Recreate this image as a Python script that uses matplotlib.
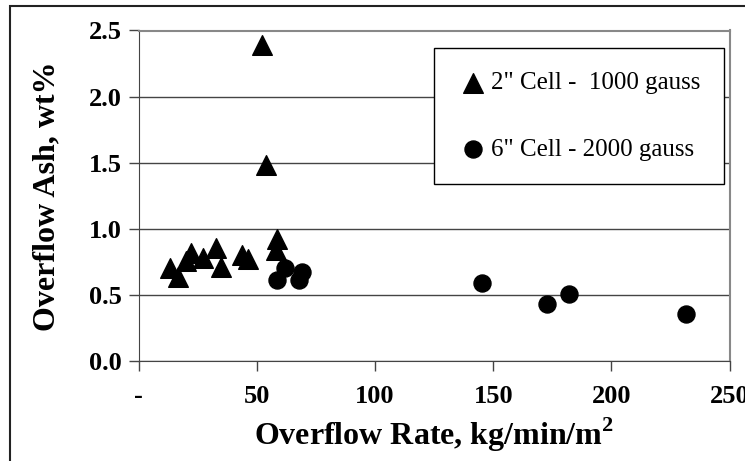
import matplotlib.pyplot as plt

# 2" cell - 1000 gauss
tri_x = [13.3, 16.8, 20.0, 22.2, 27.4, 32.8, 34.8, 43.9, 46.4, 52.3, 53.8, 58.7, 58.1]
tri_y = [0.70, 0.635, 0.76, 0.82, 0.78, 0.857, 0.71, 0.80, 0.77, 2.39, 1.48, 0.92, 0.84]

# 6" cell - 2000 gauss
circ_x = [58.4, 61.9, 68.0, 69.0, 145.4, 172.9, 182.2, 231.5]
circ_y = [0.61, 0.70, 0.61, 0.67, 0.59, 0.43, 0.51, 0.355]

x_ticks = [0, 50, 100, 150, 200, 250]
x_labels = ['-', '50', '100', '150', '200', '250']
y_ticks = [0.0, 0.5, 1.0, 1.5, 2.0, 2.5]

plt.rcParams['font.family'] = ['Liberation Serif', 'DejaVu Serif']
plt.rcParams['mathtext.fontset'] = 'custom'
plt.rcParams['mathtext.rm'] = 'Liberation Serif'
plt.rcParams['mathtext.bf'] = 'Liberation Serif:bold'

fig = plt.figure(figsize=(7.45, 4.61), dpi=100)
ax = fig.add_axes([138.5 / 745, 1 - 361 / 461, 591.2 / 745, 330.5 / 461])

# outer frame around the whole chart
fig.patches.append(plt.Rectangle((10 / 745, -0.05), 1.2, (461 - 6) / 461 + 0.05,
                                 transform=fig.transFigure, fill=False,
                                 edgecolor='#222222', linewidth=1.5))

ax.scatter(tri_x, tri_y, marker='^', s=200, color='black', label='2" Cell -  1000 gauss', zorder=3)
ax.scatter(circ_x, circ_y, marker='o', s=150, color='black', label='6" Cell - 2000 gauss', zorder=3)

ax.set_xlim(0, 250)
ax.set_ylim(0, 2.5)
ax.set_xticks(x_ticks)
ax.set_xticklabels(x_labels)
ax.set_yticks(y_ticks)
ax.set_yticklabels([f'{v:.1f}' for v in y_ticks])
ax.yaxis.grid(True, color='#444444', linewidth=1)
ax.set_axisbelow(True)

for lab in ax.get_xticklabels() + ax.get_yticklabels():
    lab.set_fontweight('bold')
    lab.set_fontsize(19)
ax.tick_params(axis='both', direction='out', length=7, width=1, color='#444444')
ax.tick_params(axis='x', pad=10)
ax.tick_params(axis='y', pad=5)

ax.spines['left'].set_color('#444444')
ax.spines['bottom'].set_color('#444444')
ax.spines['top'].set_color('#888888')
ax.spines['right'].set_color('#888888')
ax.spines['top'].set_linewidth(1.5)
ax.spines['right'].set_linewidth(1.5)

ax.set_xlabel('Overflow Rate, kg/min/m$^\\mathbf{2}$', fontsize=23, fontweight='bold', labelpad=6)
ax.set_ylabel('Overflow Ash, wt%', fontsize=23, fontweight='bold', labelpad=20)

leg = ax.legend(loc='upper right', bbox_to_anchor=(0.99, 0.947), fontsize=18,
                frameon=True, fancybox=False, edgecolor='black', framealpha=1,
                handletextpad=0.1, labelspacing=1.75, borderpad=0.95, handlelength=1.2,
                borderaxespad=0)
leg.get_frame().set_linewidth(1)

fig.savefig('out.png', dpi=100)
